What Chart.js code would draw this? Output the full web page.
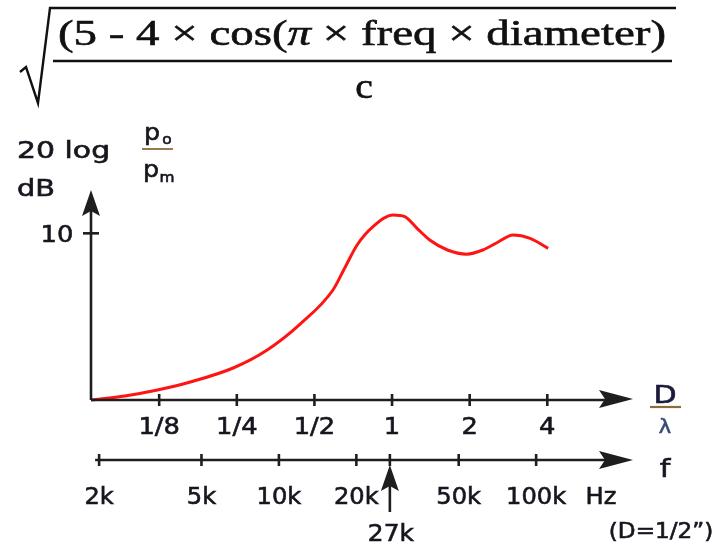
<!DOCTYPE html>
<html>
<head>
<meta charset="utf-8">
<script src="https://cdn.jsdelivr.net/npm/chart.js@4.4.1/dist/chart.umd.min.js"></script>
<style>
  html, body { margin: 0; padding: 0; background: #fff; }
  canvas { display: block; }
</style>
</head>
<body>
<canvas id="myChart" width="722" height="546"></canvas>
<script>
// curve: D/lambda vs level in dB
const ratio = [0.068, 0.092, 0.123, 0.165, 0.242, 0.328, 0.44, 0.59, 0.657, 0.732, 0.844, 1.01, 1.12, 1.25, 1.40, 1.64, 1.95, 2.25, 2.56, 2.95, 3.43, 4.03];
const level = [0, 0.24, 0.6, 1.08, 1.92, 3.0, 4.55, 6.6, 7.95, 9.3, 10.4, 11.1, 11.0, 10.3, 9.6, 9.0, 8.75, 9.0, 9.45, 9.9, 9.7, 9.1];

// axis ticks
const ratioTicks = [0.125, 0.25, 0.5, 1, 2, 4];
const ratioLabels = ['1/8', '1/4', '1/2', '1', '2', '4'];
const freqTicks = [2000, 5000, 10000, 20000, 50000, 100000];
const freqLabels = ['2k', '5k', '10k', '20k', '50k', '100k'];
const markFreq = 27000;
const markLabel = '27k';
const yTicks = [10];
const yLabels = ['10'];

const ratioMin = 0.068;
const ratioMax = 8.6;
const freqMin = 1860;
const freqMax = 238000;

const ink = '#16161f';
const axisColor = '#1e1e1e';
const sansFont = '23px "DejaVu Sans"';

const txt = (c, s, x, y, font, color, sx = 1.1, align = 'center') => {
  c.save();
  c.font = font;
  c.fillStyle = color;
  c.strokeStyle = color;
  c.lineWidth = 0.6;
  c.textBaseline = 'middle';
  c.textAlign = align;
  c.translate(x, y);
  c.scale(sx, 1);
  c.fillText(s, 0, 0);
  c.strokeText(s, 0, 0);
  c.restore();
};

const arrowHead = (c, x, y, dir) => {
  c.beginPath();
  if (dir === 'up') {
    c.moveTo(x, y);
    c.lineTo(x - 9, y + 26);
    c.lineTo(x, y + 21);
    c.lineTo(x + 9, y + 26);
  } else {
    c.moveTo(x, y);
    c.lineTo(x - 34, y - 9);
    c.lineTo(x - 28, y);
    c.lineTo(x - 34, y + 9);
  }
  c.closePath();
  c.fill();
};

// numerator of the formula, pi in italic
const drawFormula = (c) => {
  const parts = [
    ['(5 - 4 \u00d7 cos(', '36px "Liberation Serif"'],
    ['\u03c0', 'italic 36px "Liberation Serif"'],
    [' \u00d7 freq \u00d7 diameter)', '36px "Liberation Serif"'],
  ];
  let total = 0;
  const widths = parts.map(([s, f]) => {
    c.font = f;
    const w = c.measureText(s).width;
    total += w;
    return w;
  });
  const sx = 608 / total;
  c.save();
  c.translate(58, 36);
  c.scale(sx, 1);
  let x = 0;
  parts.forEach(([s, f], i) => {
    c.font = f;
    c.fillStyle = '#111';
    c.strokeStyle = '#111';
    c.lineWidth = 0.6;
    c.textBaseline = 'middle';
    c.textAlign = 'left';
    c.fillText(s, x, 0);
    c.strokeText(s, x, 0);
    x += widths[i];
  });
  c.restore();

  c.save();
  c.lineWidth = 2.4;
  c.strokeStyle = '#111';
  c.beginPath();
  c.moveTo(20, 72);
  c.lineTo(26, 67);
  c.lineTo(38, 103);
  c.lineTo(50, 8);
  c.lineTo(676, 8);
  c.stroke();
  c.beginPath();
  c.moveTo(53, 61);
  c.lineTo(672, 61);
  c.stroke();
  c.restore();
  txt(c, 'c', 364, 89, '36px "Liberation Serif"', '#111', 1.1);
};

const drawingPlugin = {
  id: 'drawing',
  afterDraw(chart) {
    const c = chart.ctx;
    const { left, right, top, bottom } = chart.chartArea;
    const xs = chart.scales.x;
    const fs = chart.scales.f;
    const ys = chart.scales.y;

    c.save();
    c.strokeStyle = axisColor;
    c.fillStyle = axisColor;
    c.lineWidth = 2.6;

    drawFormula(c);

    // y axis
    c.beginPath();
    c.moveTo(left, bottom);
    c.lineTo(left, top + 20);
    c.stroke();
    arrowHead(c, left, top, 'up');
    yTicks.forEach((v, i) => {
      const py = ys.getPixelForValue(v);
      c.beginPath();
      c.moveTo(left - 8, py);
      c.lineTo(left + 8, py);
      c.stroke();
      txt(c, yLabels[i], left - 34, py + 3, sansFont, ink, 1.12);
    });

    // upper x axis (D/lambda)
    c.beginPath();
    c.moveTo(left, bottom);
    c.lineTo(right - 20, bottom);
    c.stroke();
    arrowHead(c, right, bottom - 1, 'right');
    ratioTicks.forEach((v, i) => {
      const px = xs.getPixelForValue(v);
      c.beginPath();
      c.moveTo(px, bottom - 6);
      c.lineTo(px, bottom + 6);
      c.stroke();
      txt(c, ratioLabels[i], px, bottom + 28, sansFont, ink, 1.12);
    });

    // lower x axis (frequency)
    const fy = bottom + 60;
    const fx0 = fs.getPixelForValue(freqTicks[0]);
    c.beginPath();
    c.moveTo(fx0 - 4, fy);
    c.lineTo(right - 20, fy);
    c.stroke();
    arrowHead(c, right, fy, 'right');
    freqTicks.forEach((v, i) => {
      const px = fs.getPixelForValue(v);
      c.beginPath();
      c.moveTo(px, fy - 6);
      c.lineTo(px, fy + 6);
      c.stroke();
      txt(c, freqLabels[i], px, fy + 38, sansFont, ink, 1.05);
    });
    const mx = fs.getPixelForValue(markFreq);
    c.beginPath();
    c.moveTo(mx, fy - 6);
    c.lineTo(mx, fy + 6);
    c.stroke();
    c.beginPath();
    c.moveTo(mx, fy + 20);
    c.lineTo(mx, fy + 52);
    c.stroke();
    arrowHead(c, mx, fy + 5, 'up');
    txt(c, markLabel, mx + 1, fy + 75, sansFont, ink, 1.08);

    // axis titles
    txt(c, 'Hz', 601, fy + 38, sansFont, ink, 1.05);
    txt(c, '(D=1/2\u201d)', 661, fy + 73, '21px "DejaVu Sans"', ink, 1.1);
    txt(c, 'D', 665, bottom - 4, '25px "DejaVu Sans"', '#1a1a3a', 1.2);
    c.save();
    c.strokeStyle = '#8a6d3b';
    c.lineWidth = 2.2;
    c.beginPath();
    c.moveTo(650, bottom + 7);
    c.lineTo(681, bottom + 7);
    c.stroke();
    c.restore();
    txt(c, '\u03bb', 665, bottom + 28, '19px "DejaVu Sans"', '#3a4a7a', 1.1);
    txt(c, 'f', 665, fy + 10, '25px "DejaVu Sans"', ink, 1.2);

    txt(c, '20 log', 17, 152, sansFont, ink, 1.3, 'left');
    txt(c, 'dB', 17, 190, sansFont, ink, 1.25, 'left');
    txt(c, 'p', 152, 134, '23px "DejaVu Sans"', ink, 1.1);
    txt(c, 'o', 167, 140, '14px "DejaVu Sans"', ink, 1.1);
    txt(c, 'p', 151, 171, '23px "DejaVu Sans"', ink, 1.1);
    txt(c, 'm', 167, 178, '14px "DejaVu Sans"', ink, 1.1);
    c.save();
    c.strokeStyle = '#8a6d3b';
    c.lineWidth = 1.8;
    c.beginPath();
    c.moveTo(142, 149);
    c.lineTo(173, 149);
    c.stroke();
    c.restore();

    c.restore();
  },
};

const chartData = {
  datasets: [
    {
      data: ratio.map((r, i) => ({ x: r, y: level[i] })),
      borderColor: '#ff1414',
      borderWidth: 3,
      pointRadius: 0,
      cubicInterpolationMode: 'monotone',
      fill: false,
      clip: false,
    },
  ],
};

new Chart(document.getElementById('myChart'), {
  type: 'line',
  data: chartData,
  plugins: [drawingPlugin],
  options: {
    responsive: false,
    animation: false,
    devicePixelRatio: 1,
    layout: {
      padding: { left: 91, right: 89, top: 190, bottom: 146 },
    },
    scales: {
      x: {
        type: 'logarithmic',
        min: ratioMin,
        max: ratioMax,
        display: false,
      },
      f: {
        type: 'logarithmic',
        axis: 'x',
        min: freqMin,
        max: freqMax,
        display: false,
      },
      y: {
        type: 'linear',
        min: 0,
        max: 12.6,
        display: false,
      },
    },
    plugins: {
      legend: { display: false },
      tooltip: { enabled: false },
    },
  },
});
</script>
</body>
</html>
